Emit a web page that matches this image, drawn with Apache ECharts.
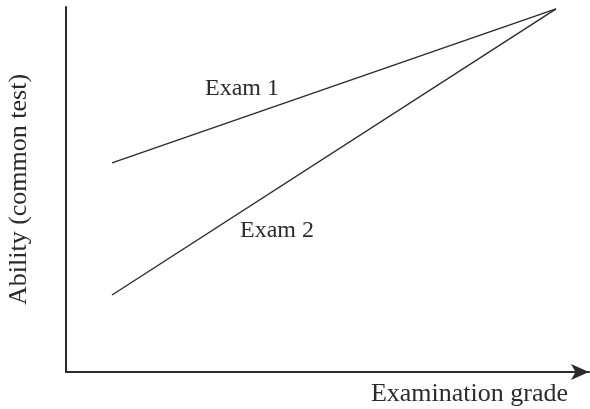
<!DOCTYPE html>
<html>
<head>
<meta charset="utf-8">
<script src="https://cdn.jsdelivr.net/npm/echarts@6/dist/echarts.min.js"></script>
<style>
  html, body { margin: 0; padding: 0; background: #fff; }
  #chart { width: 590px; height: 409px; }
</style>
</head>
<body>
<div id="chart"></div>
<script>
// Examination grade positions (schematic scale 0–100)
const gradePoints = [8.8, 93.7];
// Ability on the common test for each exam's regression line
const exam1Ability = [57.3, 99.5];
const exam2Ability = [21.1, 99.5];
const seriesNames = ['Exam 1', 'Exam 2'];
const xTitle = 'Examination grade';
const yTitle = 'Ability (common test)';

const FONT = 'Liberation Serif';
const CAPTION_SIZE = 24;
const TITLE_SIZE = 26;
const INK = '#2b2b2b';

const chart = echarts.init(document.getElementById('chart'));

function pairs(xs, ys) {
  return xs.map((x, i) => [x, ys[i]]);
}

chart.setOption({
  animation: false,
  grid: {
    left: 66, right: 1, top: 7, bottom: 37,
    containLabel: false,
    outerBoundsMode: 'none'
  },
  xAxis: {
    type: 'value', min: 0, max: 100,
    axisLine: {
      show: true,
      symbol: ['none', 'arrow'],
      symbolSize: [12, 18],
      lineStyle: { color: INK, width: 2 }
    },
    axisTick: { show: false },
    axisLabel: { show: false },
    splitLine: { show: false },
    name: xTitle,
    nameLocation: 'end',
    nameGap: -21,
    nameTextStyle: {
      fontFamily: FONT, fontSize: TITLE_SIZE, color: INK,
      align: 'right', verticalAlign: 'top', padding: [9, 0, 0, 0]
    }
  },
  yAxis: {
    type: 'value', min: 0, max: 100,
    axisLine: { show: true, lineStyle: { color: INK, width: 2 } },
    axisTick: { show: false },
    axisLabel: { show: false },
    splitLine: { show: false },
    name: yTitle,
    nameLocation: 'middle',
    nameGap: 34,
    nameTextStyle: { fontFamily: FONT, fontSize: TITLE_SIZE, color: INK }
  },
  series: [
    {
      name: seriesNames[0], type: 'line', symbol: 'none',
      lineStyle: { color: INK, width: 1.4 },
      data: pairs(gradePoints, exam1Ability)
    },
    {
      name: seriesNames[1], type: 'line', symbol: 'none',
      lineStyle: { color: INK, width: 1.4 },
      data: pairs(gradePoints, exam2Ability)
    }
  ]
});

// Series captions next to their lines
chart.setOption({
  graphic: [
    {
      type: 'text', left: 205, top: 77,
      style: { text: seriesNames[0], font: CAPTION_SIZE + 'px "' + FONT + '"', fill: INK }
    },
    {
      type: 'text', left: 240, top: 219,
      style: { text: seriesNames[1], font: CAPTION_SIZE + 'px "' + FONT + '"', fill: INK }
    }
  ]
});
</script>
</body>
</html>
